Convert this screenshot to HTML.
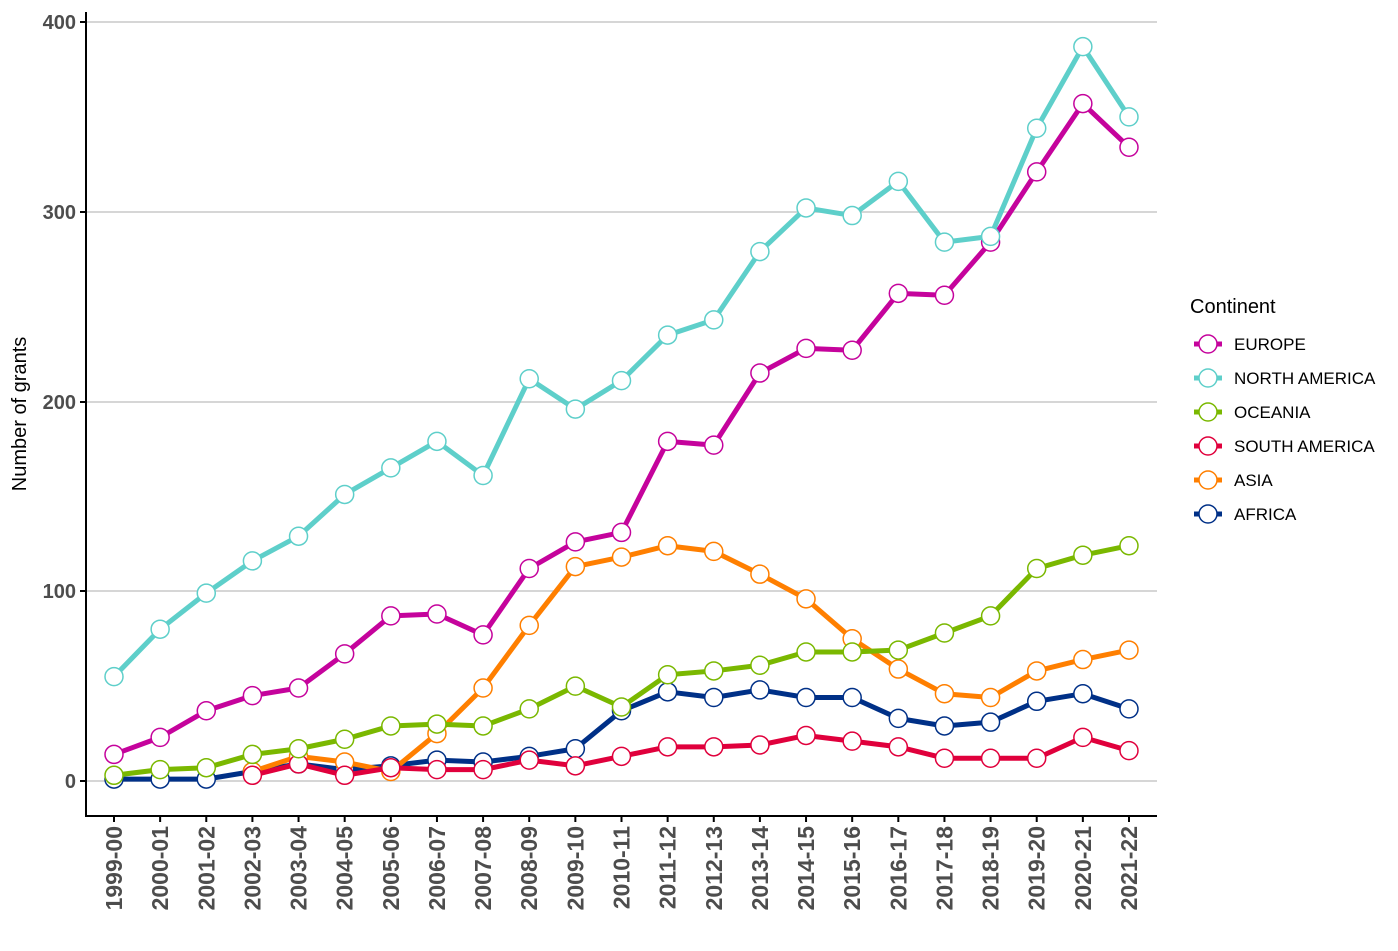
<!DOCTYPE html>
<html><head><meta charset="utf-8"><style>
html,body{margin:0;padding:0;background:#fff;}
svg{display:block;font-family:"Liberation Sans","DejaVu Sans",sans-serif;}
</style></head><body>
<svg id="c" width="1398" height="951" viewBox="0 0 1398 951" xmlns="http://www.w3.org/2000/svg">
<g stroke="#c8c8c8" stroke-width="1.6">
<line x1="86" x2="1157" y1="781" y2="781"/>
<line x1="86" x2="1157" y1="591" y2="591"/>
<line x1="86" x2="1157" y1="402" y2="402"/>
<line x1="86" x2="1157" y1="212" y2="212"/>
<line x1="86" x2="1157" y1="22" y2="22"/>
</g>
<g stroke="#000" stroke-width="2">
<line x1="86" x2="86" y1="12" y2="817"/>
<line x1="85" x2="1157" y1="816" y2="816"/>
</g>
<g font-size="20" font-weight="bold" fill="#4d4d4d" text-anchor="end">
<text x="76" y="788">0</text>
<text x="76" y="598">100</text>
<text x="76" y="409">200</text>
<text x="76" y="219">300</text>
<text x="76" y="29">400</text>
</g>
<g stroke="#000" stroke-width="2">
<line x1="80" x2="86" y1="781" y2="781"/><line x1="80" x2="86" y1="591" y2="591"/>
<line x1="80" x2="86" y1="402" y2="402"/><line x1="80" x2="86" y1="212" y2="212"/>
<line x1="80" x2="86" y1="22" y2="22"/>
</g>
<text transform="translate(26,414) rotate(-90)" font-size="20" text-anchor="middle" fill="#000">Number of grants</text>
<g id="xt"></g>
<g id="series"></g>
<text x="1190" y="313" font-size="20" fill="#000">Continent</text>
<g id="leg"></g>
</svg>
<script>
const NS="http://www.w3.org/2000/svg";
const X=i=>114+i*46.136, Y=v=>781-v*1.8975;
const labels=[];for(let i=0;i<23;i++){const a=1999+i;labels.push(a+"-"+String((a+1)%100).padStart(2,"0"));}
let xt=document.getElementById("xt");
labels.forEach((l,i)=>{
 let t=document.createElementNS(NS,"line");t.setAttribute("x1",X(i));t.setAttribute("x2",X(i));t.setAttribute("y1",816);t.setAttribute("y2",822);t.setAttribute("stroke","#000");t.setAttribute("stroke-width","2");xt.appendChild(t);
 let s=document.createElementNS(NS,"text");s.setAttribute("transform",`translate(${X(i)+8},826) rotate(-90)`);s.setAttribute("text-anchor","end");s.setAttribute("font-size","23");s.setAttribute("font-weight","bold");s.setAttribute("fill","#4d4d4d");s.textContent=l;xt.appendChild(s);
});
const S=[
["AFRICA","#003087",0,[1,1,1,5,9,6,8,11,10,13,17,37,47,44,48,44,44,33,29,31,42,46,38]],
["ASIA","#ff7f00",3,[5,13,10,5,25,49,82,113,118,124,121,109,96,75,59,46,44,58,64,69]],
["SOUTH AMERICA","#e0003c",3,[3,9,3,7,6,6,11,8,13,18,18,19,24,21,18,12,12,12,23,16]],
["OCEANIA","#7ab800",0,[3,6,7,14,17,22,29,30,29,38,50,39,56,58,61,68,68,69,78,87,112,119,124]],
["EUROPE","#c5039c",0,[14,23,37,45,49,67,87,88,77,112,126,131,179,177,215,228,227,257,256,284,321,357,334]],
["NORTH AMERICA","#5ecfca",0,[55,80,99,116,129,151,165,179,161,212,196,211,235,243,279,302,298,316,284,287,344,387,350]]
];
const g=document.getElementById("series");
S.forEach(([n,c,o,d])=>{
 let p=document.createElementNS(NS,"polyline");
 p.setAttribute("points",d.map((v,i)=>X(i+o)+","+Y(v)).join(" "));
 p.setAttribute("fill","none");p.setAttribute("stroke",c);p.setAttribute("stroke-width","5");p.setAttribute("stroke-linejoin","round");g.appendChild(p);
 d.forEach((v,i)=>{let ci=document.createElementNS(NS,"circle");ci.setAttribute("cx",X(i+o));ci.setAttribute("cy",Y(v));ci.setAttribute("r","9");ci.setAttribute("fill","#fff");ci.setAttribute("stroke",c);ci.setAttribute("stroke-width","1.5");g.appendChild(ci);});
});
const L=document.getElementById("leg");
const order=[4,5,3,2,1,0];
order.forEach((k,j)=>{const [n,c]=S[k];const y=344+j*34;
 L.innerHTML+=`<line x1="1194" x2="1222" y1="${y}" y2="${y}" stroke="${c}" stroke-width="5"/><circle cx="1208" cy="${y}" r="9" fill="#fff" stroke="${c}" stroke-width="1.5"/><text x="1234" y="${y+6}" font-size="17" fill="#000">${n}</text>`;
});
</script>
</body></html>
